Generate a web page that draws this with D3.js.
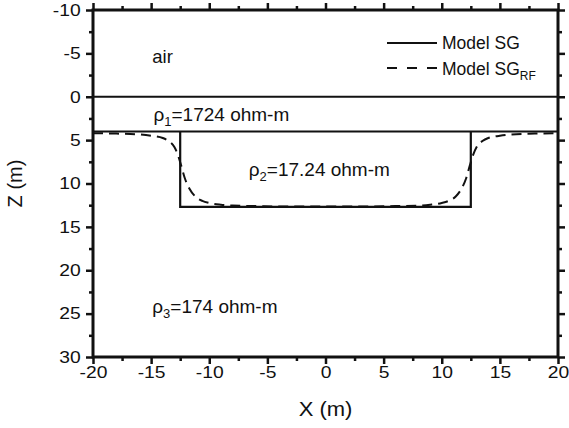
<!DOCTYPE html>
<html>
<head>
<meta charset="utf-8">
<script src="https://cdn.jsdelivr.net/npm/d3@7"></script>
<style>
  body { margin: 0; background: #fff; }
  text { font-family: "Liberation Sans", Arial, sans-serif; fill: #111; }
</style>
</head>
<body>
<svg id="chart" width="569" height="428"></svg>
<script>
// model SG: layer interfaces + conductive block
var interfaceZ = [0, 4];
var blockX = [-12.5, -12.5, 12.5, 12.5];
var blockZ = [4, 12.7, 12.7, 4];

// model SG_RF (smoothed)
var rfX = [-20, -18, -16, -15, -14, -13.5, -13, -12.7, -12.4, -12.1, -11.7, -11.2, -10.6, -10, -9, -8, -6, -4, -2, 0,
           2, 4, 6, 8, 9, 10, 10.6, 11.2, 11.7, 12.1, 12.4, 12.7, 13, 13.5, 14, 15, 16, 18, 20];
var rfZ = [4.2, 4.25, 4.35, 4.5, 4.75, 5.1, 5.8, 6.7, 8.0, 9.4, 10.6, 11.5, 12.0, 12.25, 12.45, 12.55, 12.6, 12.65, 12.65, 12.65,
           12.65, 12.65, 12.6, 12.55, 12.45, 12.25, 12.0, 11.5, 10.6, 9.4, 8.0, 6.7, 5.8, 5.1, 4.75, 4.5, 4.35, 4.25, 4.2];

var xTicks = [-20, -15, -10, -5, 0, 5, 10, 15, 20];
var zTicks = [-10, -5, 0, 5, 10, 15, 20, 25, 30];
var xMinor = [-17.5, -12.5, -7.5, -2.5, 2.5, 7.5, 12.5, 17.5];
var zMinor = [-7.5, -2.5, 2.5, 7.5, 12.5, 17.5, 22.5, 27.5];

var svg = d3.select("#chart");
var pL = 93, pR = 558, pT = 10, pB = 357;

var x = d3.scaleLinear().domain([-20, 20]).range([pL, pR]);
var y = d3.scaleLinear().domain([-10, 30]).range([pT, pB]);
var fmt = function(d){ return String(d); };

// minor ticks first (no labels)
svg.append("g").attr("transform", "translate(0," + pB + ")")
  .call(d3.axisBottom(x).tickValues(xMinor).tickSize(4).tickFormat(""));
svg.append("g").attr("transform", "translate(0," + pT + ")")
  .call(d3.axisTop(x).tickValues(xMinor).tickSize(4).tickFormat(""));
svg.append("g").attr("transform", "translate(" + pL + ",0)")
  .call(d3.axisLeft(y).tickValues(zMinor).tickSize(4).tickFormat(""));
svg.append("g").attr("transform", "translate(" + pR + ",0)")
  .call(d3.axisRight(y).tickValues(zMinor).tickSize(4).tickFormat(""));

// major ticks
svg.append("g").attr("class", "lab").attr("transform", "translate(0," + pB + ")")
  .call(d3.axisBottom(x).tickValues(xTicks).tickSize(7).tickPadding(2).tickFormat(fmt));
svg.append("g").attr("transform", "translate(0," + pT + ")")
  .call(d3.axisTop(x).tickValues(xTicks).tickSize(7).tickFormat(""));
svg.append("g").attr("class", "lab").attr("transform", "translate(" + pL + ",0)")
  .call(d3.axisLeft(y).tickValues(zTicks).tickSize(7).tickPadding(3.5).tickFormat(fmt));
svg.append("g").attr("transform", "translate(" + pR + ",0)")
  .call(d3.axisRight(y).tickValues(zTicks).tickSize(7).tickFormat(""));

svg.selectAll(".domain").remove();
svg.selectAll(".tick line").attr("stroke", "#111").attr("stroke-width", 2.5);
// labels in the figure are slightly wide, stretch them a bit
svg.selectAll(".lab text").attr("font-size", 16.5).attr("font-family", "Liberation Sans, Arial, sans-serif")
  .attr("fill", "#111").attr("transform", "scale(1.17,1)");

// frame
svg.append("rect")
  .attr("x", pL).attr("y", pT)
  .attr("width", pR - pL).attr("height", pB - pT)
  .attr("fill", "none").attr("stroke", "#111").attr("stroke-width", 3);

// model SG
svg.selectAll(".iface").data(interfaceZ).enter().append("line")
  .attr("x1", x(-20)).attr("x2", x(20))
  .attr("y1", function(d){ return y(d); }).attr("y2", function(d){ return y(d); })
  .attr("stroke", "#111").attr("stroke-width", 2);

var line = d3.line().x(function(d){ return x(d[0]); }).y(function(d){ return y(d[1]); });
svg.append("path")
  .datum(d3.zip(blockX, blockZ))
  .attr("d", line)
  .attr("fill", "none").attr("stroke", "#111").attr("stroke-width", 2.2);

// model SG_RF
svg.append("path")
  .datum(d3.zip(rfX, rfZ))
  .attr("d", line.curve(d3.curveMonotoneX))
  .attr("fill", "none").attr("stroke", "#111").attr("stroke-width", 2)
  .attr("stroke-dasharray", "10,6");

// legend
svg.append("line").attr("x1", 387).attr("x2", 437).attr("y1", 43).attr("y2", 43)
  .attr("stroke", "#111").attr("stroke-width", 2);
svg.append("line").attr("x1", 387).attr("x2", 437).attr("y1", 68).attr("y2", 68)
  .attr("stroke", "#111").attr("stroke-width", 2).attr("stroke-dasharray", "10,10");
svg.append("text").attr("x", 442).attr("y", 49).attr("font-size", 17.5).text("Model SG");
var lg = svg.append("text").attr("x", 442).attr("y", 75).attr("font-size", 17.5);
lg.append("tspan").text("Model SG");
lg.append("tspan").attr("font-size", 12).attr("dy", 5).text("RF");

// layer annotations
svg.append("text").attr("x", x(-14.9)).attr("y", y(-3.9)).attr("font-size", 18.5).text("air");

function rho(xv, zv, sub, rest) {
  var t = svg.append("text").attr("x", x(xv)).attr("y", y(zv)).attr("font-size", 19);
  t.append("tspan").text("\u03c1");
  t.append("tspan").attr("font-size", 13).attr("dy", 5).text(sub);
  t.append("tspan").attr("dy", -5).text(rest);
}
rho(-14.8, 2.8, "1", "=1724 ohm-m");
rho(-6.6, 9.1, "2", "=17.24 ohm-m");
rho(-14.9, 24.9, "3", "=174 ohm-m");

// axis titles
svg.append("text")
  .attr("transform", "translate(" + ((pL + pR) / 2) + ",416) scale(1.1,1)")
  .attr("text-anchor", "middle").attr("font-size", 20).text("X (m)");
svg.append("text")
  .attr("transform", "translate(22," + ((pT + pB) / 2) + ") rotate(-90)")
  .attr("text-anchor", "middle").attr("font-size", 20).text("Z (m)");
</script>
</body>
</html>
